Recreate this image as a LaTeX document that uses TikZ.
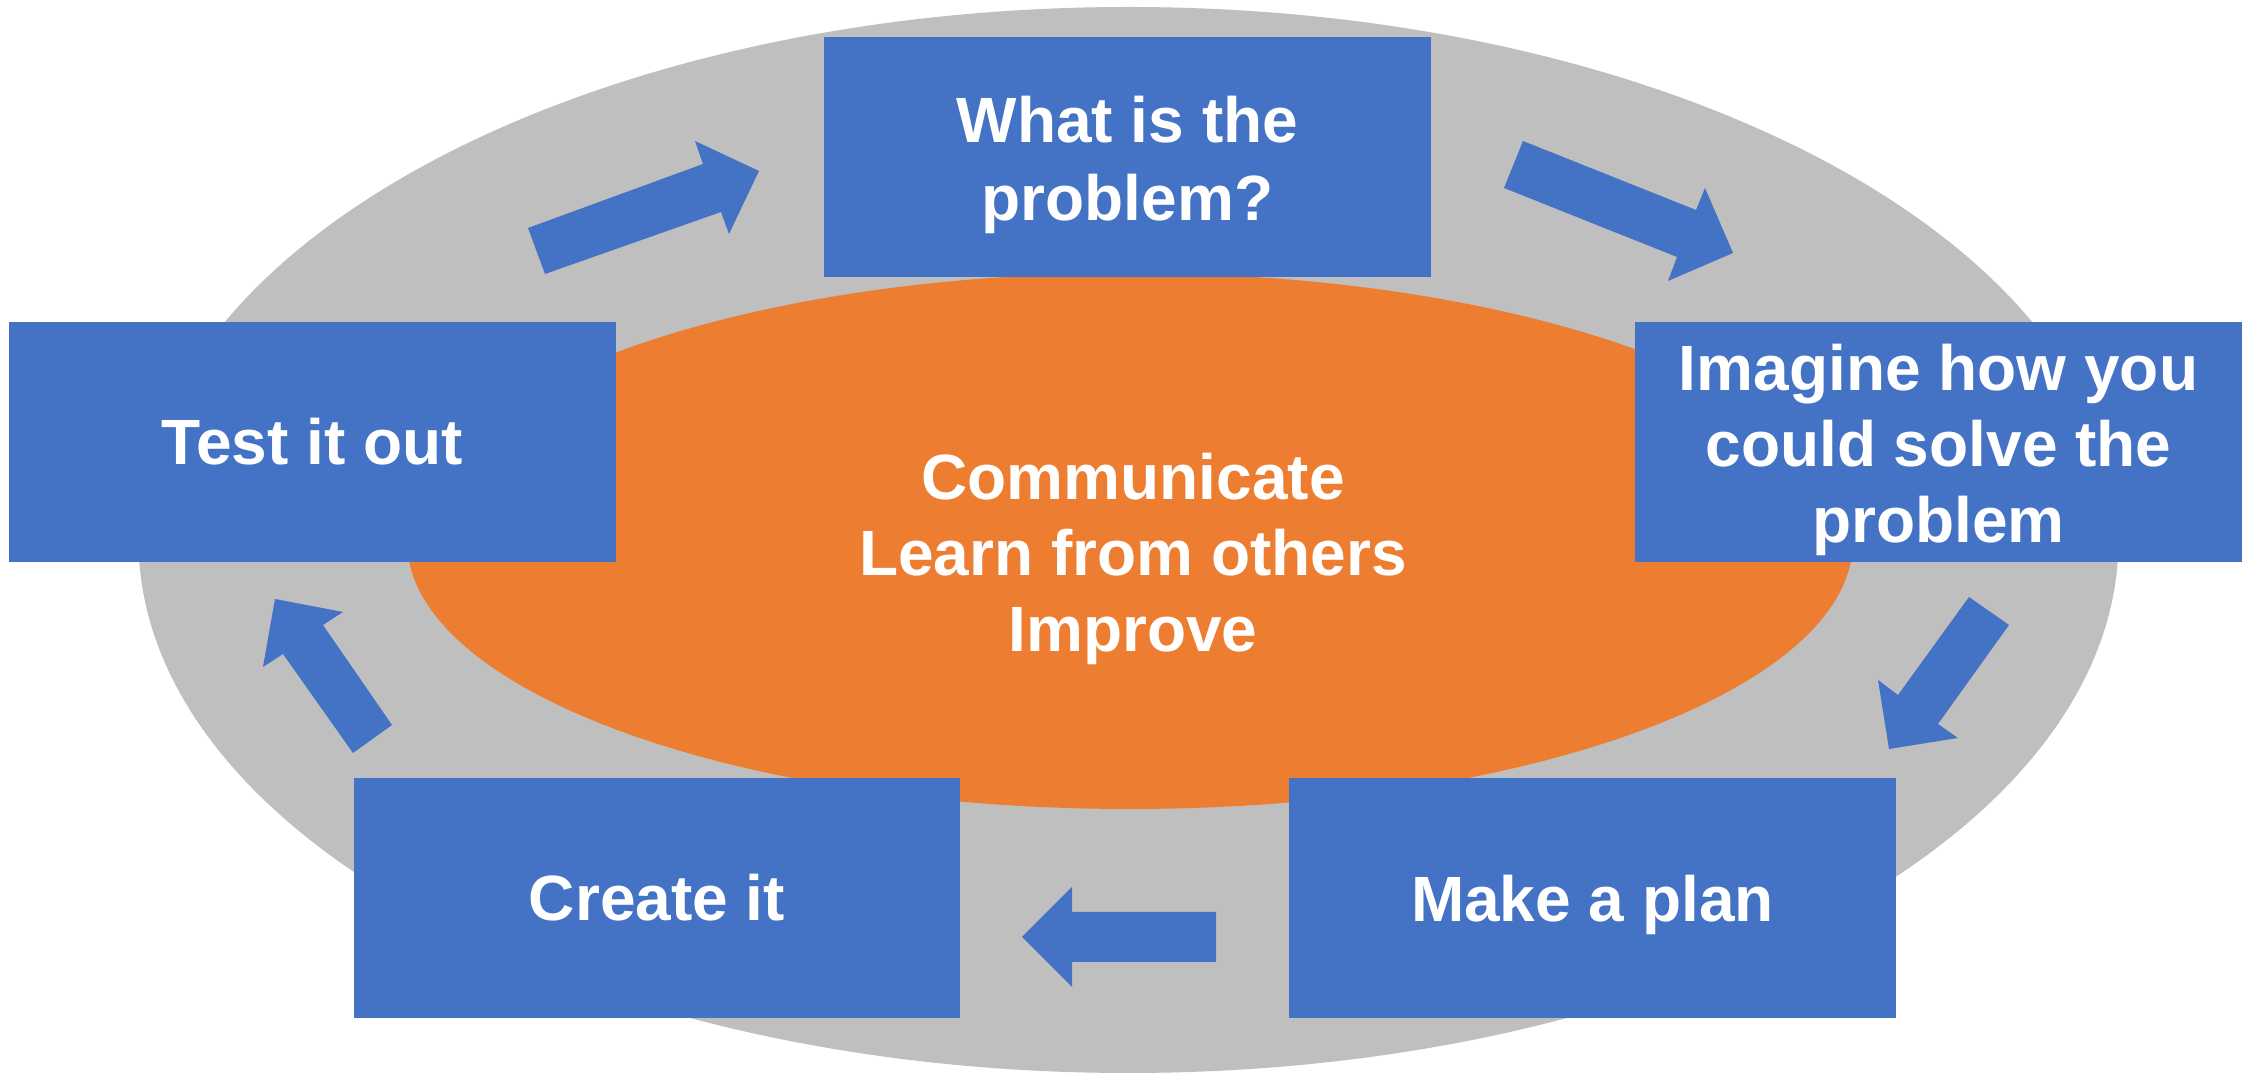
\documentclass[tikz,border=0pt]{standalone}
\usepackage{fontspec}
\setmainfont{Liberation Sans}
\definecolor{cgray}{HTML}{BFBFBF}
\definecolor{corange}{HTML}{ED7D31}
\definecolor{cblue}{HTML}{4472C4}
\begin{document}
\begin{tikzpicture}[x=0.01cm,y=-0.01cm,
  stepbox/.style={fill=cblue,draw=none,minimum width=6.06cm,minimum height=2.39cm,inner sep=0pt,
    text=white,align=center,font=\bfseries\fontsize{18.2}{21.6}\selectfont},
  midtext/.style={text=white,align=center,inner sep=0pt,font=\bfseries\fontsize{18.2}{21.6}\selectfont},
  blockarrow/.style={fill=cblue,draw=none}]
\useasboundingbox (0,0) rectangle (2256,1074);
% background ellipses
\fill[cgray] (1128.5,540) ellipse [x radius=990, y radius=533];
\fill[corange] (1130,541) ellipse [x radius=723, y radius=268];
% centre text
\node[midtext] (centre) at (1133,559) {Communicate\\Learn from others\\Improve};
% boxes
\node[stepbox] (what) at (1127.5,157) {};
\node[text=white,align=center,inner sep=0pt,font=\bfseries\fontsize{18.2}{22.2}\selectfont] (whattext) at (1127.5,165) {What is the\\problem?};
\node[stepbox] (imagine) at (1938.5,442) {};
\node[midtext] (imaginetext) at (1938.5,450) {Imagine how you\\could solve the\\problem};
\node[stepbox] (plan) at (1592.5,898) {};
\node[midtext] (plantext) at (1592.5,905) {Make a plan};
\node[stepbox] (create) at (657,898) {Create it};
\node[stepbox] (test) at (312.5,442) {Test it out};
% block arrows
\fill[blockarrow] (528,228) -- (703,164) -- (695,141) -- (759,171) -- (729,234) -- (721,212) -- (545,274) -- cycle;
\fill[blockarrow] (1523,141) -- (1696,210) -- (1705,188) -- (1733,253) -- (1668,281) -- (1677,257) -- (1504,188) -- cycle;
\fill[blockarrow] (1969,597) -- (2009,625) -- (1938,724) -- (1958,738) -- (1889,749) -- (1878,680) -- (1898,695) -- cycle;
\fill[blockarrow] (1216,912) -- (1072,912) -- (1072,887) -- (1022,937) -- (1072,987) -- (1072,962) -- (1216,962) -- cycle;
\fill[blockarrow] (392,725) -- (323,625) -- (343,612) -- (275,599) -- (263,667) -- (283,654) -- (353,753) -- cycle;
\end{tikzpicture}
\end{document}
